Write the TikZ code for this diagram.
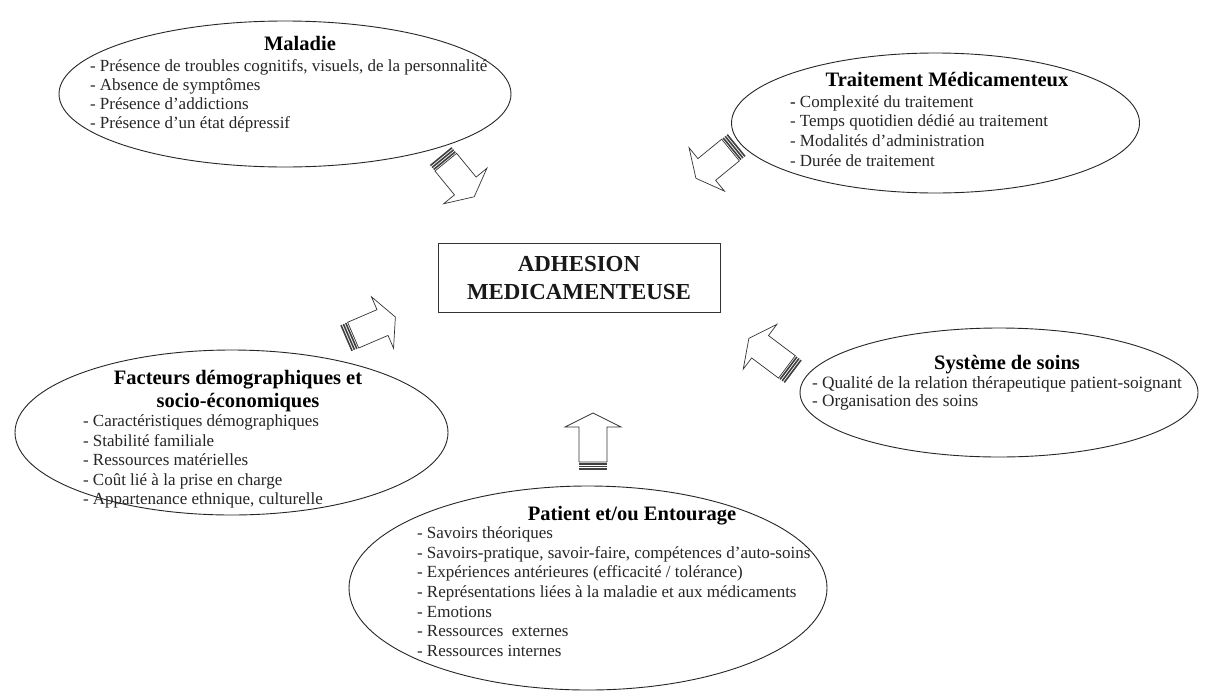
\documentclass[tikz,border=0pt]{standalone}
\usepackage{fontspec}
\setmainfont{Liberation Serif}
\usetikzlibrary{shapes.geometric,calc}

\newcommand{\stripedarrow}[2]{%
  \path let \p1=($(#2)-(#1)$) in \pgfextra{%
    \pgfmathsetmacro{\arrA}{atan2(\y1,\x1)}%
    \pgfmathsetmacro{\arrL}{veclen(\x1,\y1)}%
    \global\let\ArrAng\arrA \global\let\ArrLen\arrL};
  \begin{scope}[shift={(#1)},rotate=\ArrAng]
    \fill[stripe] (0,-14) rectangle (1.6,14);
    \fill[stripe] (2.6,-14) rectangle (4.2,14);
    \fill[stripe] (5.2,-14) rectangle (6.8,14);
    \draw[blockarrow] (8,-14) -- ({\ArrLen-14},-14) -- ({\ArrLen-14},-28) -- (\ArrLen,0)
      -- ({\ArrLen-14},28) -- ({\ArrLen-14},14) -- (8,14) -- cycle;
  \end{scope}}

\begin{document}
\begin{tikzpicture}[x=1pt,y=-1pt,
  every node/.style={inner sep=0pt, outer sep=0pt},
  bubble/.style={ellipse, draw=black!85, line width=0.9pt, inner sep=0pt},
  ttl/.style={font=\fontsize{20.5}{23}\selectfont\bfseries, anchor=base, text=black},
  item/.style={font=\fontsize{17}{19.6}\selectfont, anchor=base west, text=black!85},
  itembig/.style={item, font=\fontsize{17.3}{19.6}\selectfont},
  centrebox/.style={draw=black!80, line width=0.9pt, minimum width=282pt, minimum height=69pt},
  centretext/.style={font=\fontsize{22.9}{28}\selectfont\bfseries, anchor=base, text=black!90},
  stripe/.style={fill=black!75},
  blockarrow/.style={draw=black!80, fill=white, line width=0.7pt, line join=miter}
]
\fill[white] (0,0) rectangle (1209,691);
\useasboundingbox (0,0) rectangle (1209,691);

% ---------- Maladie
\node[bubble, minimum width=452pt, minimum height=146pt] (mal) at (285,94) {};
\node[ttl] (malT) at (300,50) {Maladie};
\foreach \t [count=\i] in {{- Présence de troubles cognitifs, visuels, de la personnalité},
  {- Absence de symptômes}, {- Présence d’addictions}, {- Présence d’un état dépressif}}
  \node[item] (mal\i) at (90,{71+19*(\i-1)}) {\t};

% ---------- Traitement
\node[bubble, minimum width=408pt, minimum height=140pt] (trt) at (935.5,123) {};
\node[ttl] (trtT) at (947,86) {Traitement Médicamenteux};
\foreach \t [count=\i] in {{\textbf{-} Complexité du traitement},
  {- Temps quotidien dédié au traitement}, {- Modalités d’administration}, {- Durée de traitement}}
  \node[item] (trt\i) at (790,{107+19.8*(\i-1)}) {\t};

% ---------- Facteurs
\node[bubble, minimum width=433pt, minimum height=165pt] (fac) at (231.5,432.5) {};
\node[ttl] (facT1) at (238,384) {Facteurs démographiques et};
\node[ttl] (facT2) at (238,407) {socio-économiques};
\foreach \t [count=\i] in {{- Caractéristiques démographiques}, {- Stabilité familiale},
  {- Ressources matérielles}, {- Coût lié à la prise en charge}, {- Appartenance ethnique, culturelle}}
  \node[item] (fac\i) at (83,{426.5+19.5*(\i-1)}) {\t};

% ---------- Systeme de soins
\node[bubble, minimum width=398pt, minimum height=129pt] (sys) at (999,392.5) {};
\node[ttl] (sysT) at (1007,369) {Système de soins};
\foreach \t [count=\i] in {{- Qualité de la relation thérapeutique patient-soignant},
  {- Organisation des soins}}
  \node[itembig] (sys\i) at (812,{388+18.7*(\i-1)}) {\t};

% ---------- Patient
\node[bubble, minimum width=478pt, minimum height=204pt] (pat) at (588,588) {};
\node[ttl] (patT) at (632,520) {Patient et/ou Entourage};
\foreach \t [count=\i] in {{- Savoirs théoriques},
  {- Savoirs-pratique, savoir-faire, compétences d’auto-soins},
  {- Expériences antérieures (efficacité / tolérance)},
  {- Représentations liées à la maladie et aux médicaments},
  {- Emotions}, {- Ressources\ \ externes}, {- Ressources internes}}
  \node[item] (pat\i) at (417,{538.5+19.67*(\i-1)}) {\t};

% ---------- centre
\node[centrebox] (adh) at (579,277.5) {};
\node[centretext] (adh1) at (579,271) {ADHESION};
\node[centretext] (adh2) at (579,299) {MEDICAMENTEUSE};

% ---------- arrows
\coordinate (malA) at (440.7,156);   \coordinate (malB) at (474.2,196.8);
\coordinate (trtA) at (736.7,145);   \coordinate (trtB) at (695.9,178.3);
\coordinate (facA) at (345.8,338.3); \coordinate (facB) at (395.4,317);
\coordinate (sysA) at (793.3,371.7); \coordinate (sysB) at (748.8,338.3);
\coordinate (patA) at (593,470);     \coordinate (patB) at (593,413);
\stripedarrow{malA}{malB}
\stripedarrow{trtA}{trtB}
\stripedarrow{facA}{facB}
\stripedarrow{sysA}{sysB}
\stripedarrow{patA}{patB}
\end{tikzpicture}
\end{document}
